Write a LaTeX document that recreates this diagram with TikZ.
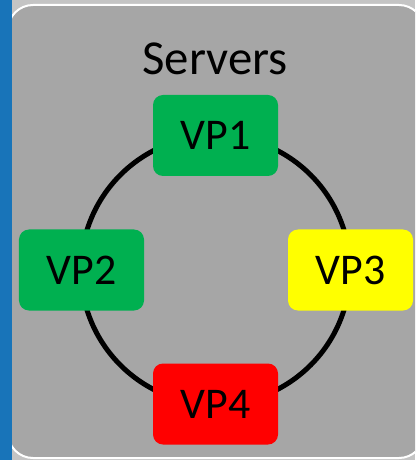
\documentclass[tikz,border=0pt]{standalone}
\usepackage{fontspec}
\setmainfont{Carlito}
\definecolor{outerbg}{HTML}{C4C4C4}
\definecolor{panel}{HTML}{A6A6A6}
\definecolor{strip}{HTML}{1874B9}
\definecolor{vpgreen}{HTML}{00B050}
\definecolor{vpyellow}{HTML}{FFFF00}
\definecolor{vpred}{HTML}{FF0000}
\tikzset{
  vpbox/.style={rounded corners=10bp, minimum width=125bp, minimum height=81bp,
    inner sep=0pt, font=\fontsize{44}{44}\selectfont, text=black},
  ring/.style={line width=5bp, black}
}
\begin{document}
\begin{tikzpicture}[x=1bp,y=-1bp]
\useasboundingbox (0,0) rectangle (415,460);
\begin{scope}
\clip (0,0) rectangle (415,460);
\fill[outerbg] (0,0) rectangle (415,460);
\draw[white, line width=2bp, fill=panel, rounded corners=25bp] (8,5) rectangle (424,458);
\fill[strip] (0,0) rectangle (12,460);
\end{scope}
\node[anchor=base, font=\fontsize{49}{49}\selectfont] (title) at (215,75) {Servers};
\coordinate (c) at (215.5,270);
\draw[ring] (c) circle (134.5bp);
\node[vpbox, fill=vpgreen] (vp1) at (215.5,135.5) {VP1};
\node[vpbox, fill=vpgreen] (vp2) at (81.5,270) {VP2};
\node[vpbox, fill=vpyellow] (vp3) at (350.5,270) {VP3};
\node[vpbox, fill=vpred] (vp4) at (215.5,404) {VP4};
\end{tikzpicture}
\end{document}
